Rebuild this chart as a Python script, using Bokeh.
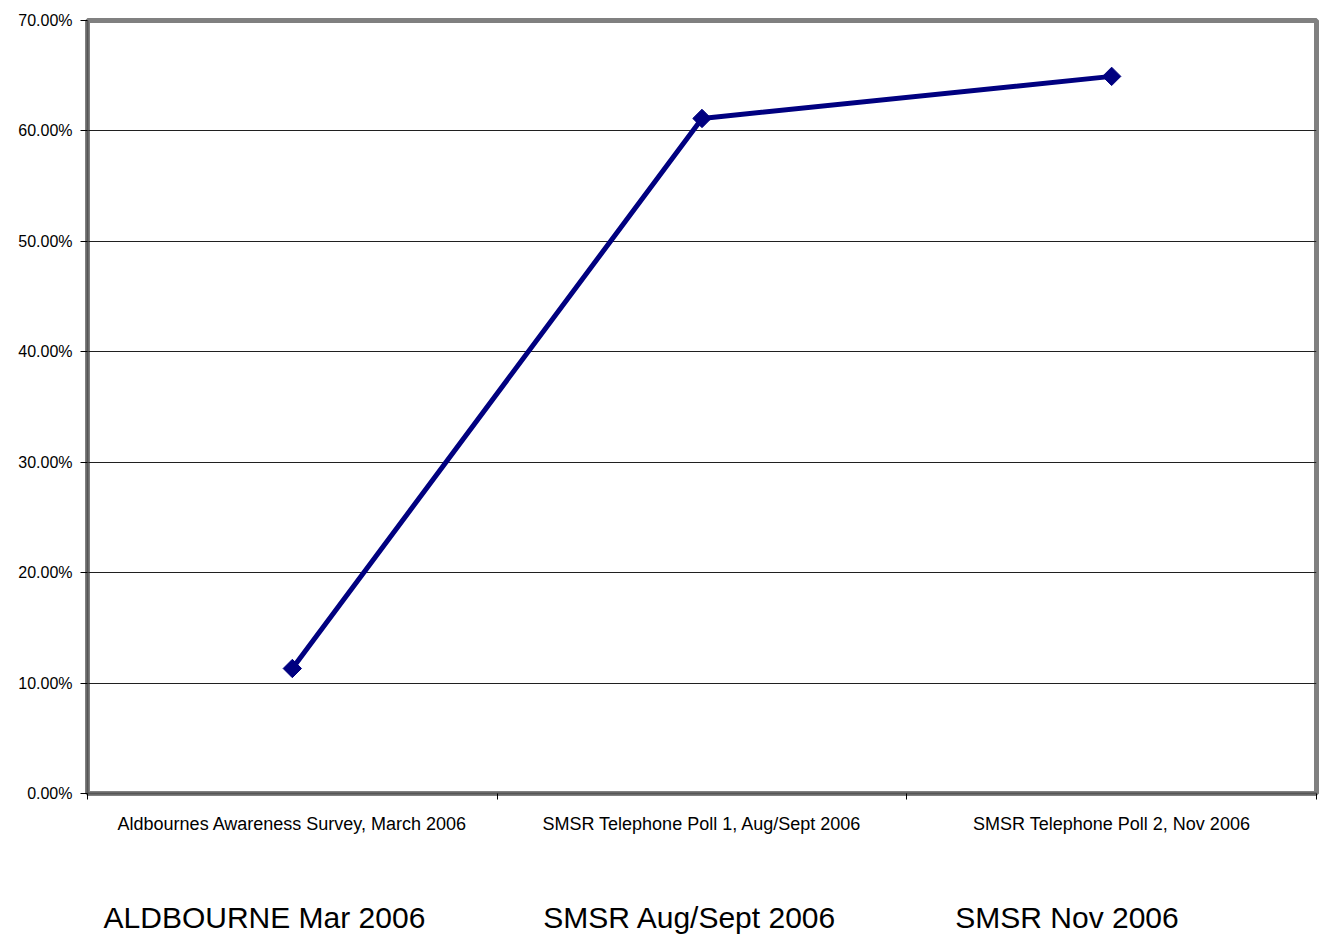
from bokeh.plotting import figure
from bokeh.models import (Range1d, LinearAxis, FixedTicker, NumeralTickFormatter)
from bokeh.embed import file_html
from bokeh.resources import INLINE

categories = ["Aldbournes Awareness Survey, March 2006",
              "SMSR Telephone Poll 1, Aug/Sept 2006",
              "SMSR Telephone Poll 2, Nov 2006"]
short_labels = ["ALDBOURNE Mar 2006", "SMSR Aug/Sept 2006", "SMSR Nov 2006"]
values = [0.1132, 0.6113, 0.6494]
y_ticks = [0.0, 0.1, 0.2, 0.3, 0.4, 0.5, 0.6, 0.7]

FONT = "Liberation Sans"
xs = [i + 0.5 for i in range(len(categories))]

p = figure(width=1324, height=936, output_backend="svg", toolbar_location=None,
           x_range=Range1d(0, len(categories)), y_range=Range1d(0, 0.7),
           x_axis_location=None, y_axis_location="left",
           min_border_left=87, min_border_right=8, min_border_top=20,
           min_border_bottom=143)
p.background_fill_color = "white"
p.border_fill_color = "white"
p.outline_line_color = "#808080"
p.outline_line_width = 5

# y axis
ya = p.yaxis[0]
ya.ticker = FixedTicker(ticks=y_ticks)
ya.formatter = NumeralTickFormatter(format="0.00%")
ya.major_label_text_font = FONT
ya.major_label_text_font_size = "16px"
ya.major_label_text_color = "black"
ya.major_tick_out = 7
ya.major_tick_in = 0
ya.minor_tick_line_color = None
ya.major_tick_line_color = "black"
ya.axis_line_color = "#555555"
ya.axis_line_width = 2
ya.major_label_standoff = 8

p.ygrid.ticker = FixedTicker(ticks=y_ticks)
p.ygrid.grid_line_color = "#202020"
p.ygrid.grid_line_width = 1
p.xgrid.grid_line_color = None

# category axis with boundary ticks
xa = LinearAxis(ticker=FixedTicker(ticks=xs, minor_ticks=list(range(len(categories) + 1))),
                major_label_overrides={x: c for x, c in zip(xs, categories)})
xa.major_tick_line_color = None
xa.major_tick_out = 0
xa.major_tick_in = 0
xa.minor_tick_out = 6
xa.minor_tick_in = 0
xa.minor_tick_line_color = "black"
xa.axis_line_color = "#555555"
xa.axis_line_width = 2
xa.major_label_text_font = FONT
xa.major_label_text_font_size = "18px"
xa.major_label_text_color = "black"
xa.major_label_standoff = 14
p.add_layout(xa, "below")

# short labels row
short_pos = [0.432, 1.471, 2.391]
xb = LinearAxis(ticker=FixedTicker(ticks=short_pos, minor_ticks=[]),
                major_label_overrides={x: s for x, s in zip(short_pos, short_labels)})
xb.axis_line_color = None
xb.major_tick_line_color = None
xb.minor_tick_line_color = None
xb.major_tick_out = 0
xb.major_tick_in = 0
xb.major_label_text_font = FONT
xb.major_label_text_font_size = "30px"
xb.major_label_text_color = "black"
xb.major_label_standoff = 64
p.add_layout(xb, "below")

p.line(xs, values, line_color="#000080", line_width=5)
p.scatter(xs, values, marker="square", size=13, angle=0.7853981634,
          fill_color="#000080", line_color="#000080")

open("out.html", "w").write(file_html(p, INLINE))
